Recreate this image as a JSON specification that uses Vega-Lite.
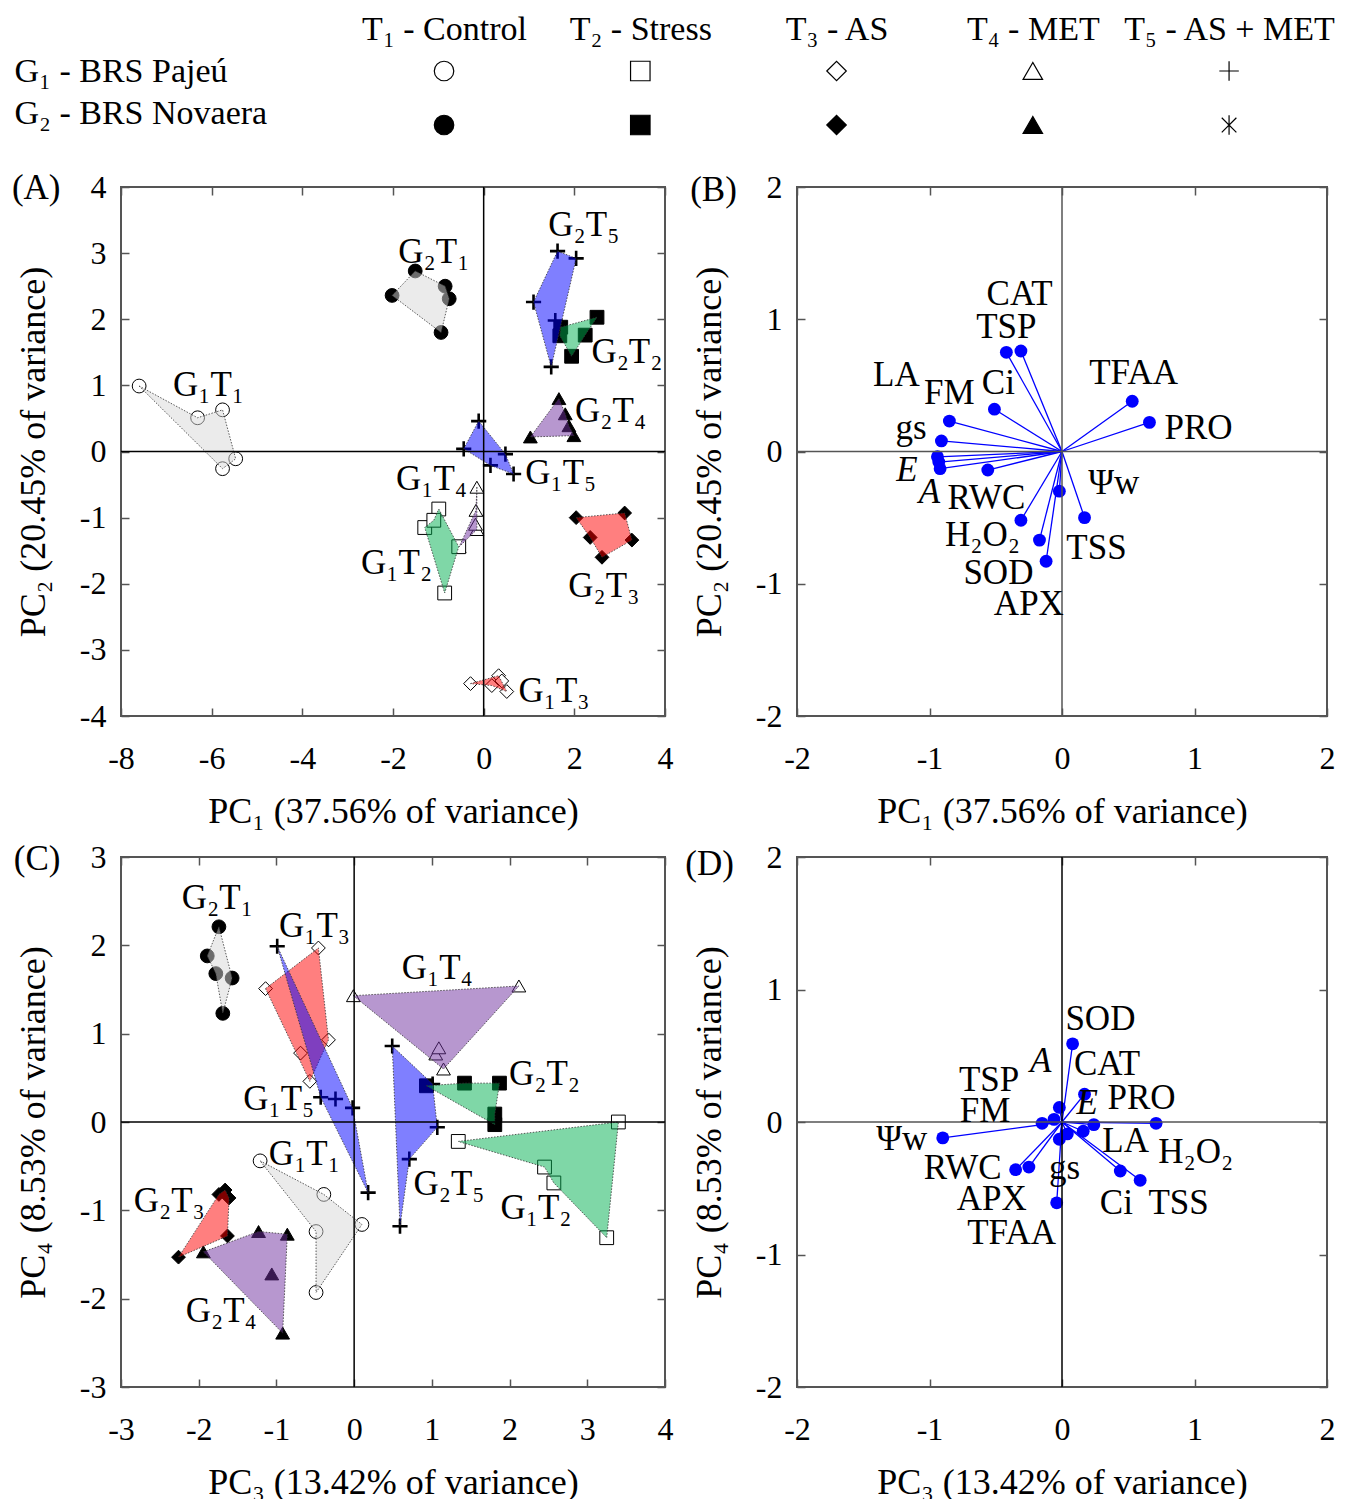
{
"$schema":"https://vega.github.io/schema/vega-lite/v6.json",
"padding":{"left":10,"top":12,"right":5,"bottom":5},
"config":{
 "font":"Liberation Serif",
 "view":{"stroke":"#555","strokeWidth":2},
 "axis":{"labelFont":"Liberation Serif","titleFont":"Liberation Serif","labelFontSize":32,"titleFontSize":36,"titleFontWeight":"normal","labelColor":"#000","titleColor":"#000","domain":false,"grid":false,"tickColor":"#555","tickWidth":1.5,"tickSize":-8,"labelFlush":false,"labelOverlap":false,"labelLimit":0},
 "text":{"font":"Liberation Serif","fontSize":35,"color":"#000"}
},
"datasets":{
 "hdr":[
  {"g":1,"k":"1T1","c":1,"r":1},{"g":1,"k":"1T2","c":2,"r":1},{"g":1,"k":"1T3","c":3,"r":1},{"g":1,"k":"1T4","c":4,"r":1},{"g":1,"k":"1T5","c":5,"r":1},
  {"g":2,"k":"2T1","c":1,"r":2},{"g":2,"k":"2T2","c":2,"r":2},{"g":2,"k":"2T3","c":3,"r":2},{"g":2,"k":"2T4","c":4,"r":2},{"g":2,"k":"2T5","c":5,"r":2}
 ],
 "ptsA":[
  {"id":"G1T1","g":1,"t":"T1","x":-7.60,"y":0.99,"o":1},{"id":"G1T1","g":1,"t":"T1","x":-6.31,"y":0.51,"o":2},{"id":"G1T1","g":1,"t":"T1","x":-5.76,"y":0.63,"o":3},{"id":"G1T1","g":1,"t":"T1","x":-5.47,"y":-0.11,"o":4},{"id":"G1T1","g":1,"t":"T1","x":-5.76,"y":-0.26,"o":5},
  {"id":"G2T1","g":2,"t":"T1","x":-2.02,"y":2.36,"o":1},{"id":"G2T1","g":2,"t":"T1","x":-1.51,"y":2.73,"o":2},{"id":"G2T1","g":2,"t":"T1","x":-0.85,"y":2.50,"o":3},{"id":"G2T1","g":2,"t":"T1","x":-0.76,"y":2.31,"o":4},{"id":"G2T1","g":2,"t":"T1","x":-0.94,"y":1.80,"o":5},
  {"id":"G2T5","g":2,"t":"T5","x":1.63,"y":3.03,"o":1},{"id":"G2T5","g":2,"t":"T5","x":2.04,"y":2.92,"o":2},{"id":"G2T5","g":2,"t":"T5","x":1.49,"y":1.28,"o":3},{"id":"G2T5","g":2,"t":"T5","x":1.10,"y":2.26,"o":4},{"id":"G2T5","g":2,"t":"T5","x":1.58,"y":1.98,"o":null},
  {"id":"G2T2","g":2,"t":"T2","x":1.70,"y":1.88,"o":1},{"id":"G2T2","g":2,"t":"T2","x":2.50,"y":2.03,"o":2},{"id":"G2T2","g":2,"t":"T2","x":2.24,"y":1.76,"o":3},{"id":"G2T2","g":2,"t":"T2","x":1.94,"y":1.44,"o":4},{"id":"G2T2","g":2,"t":"T2","x":1.68,"y":1.75,"o":5},
  {"id":"G2T4","g":2,"t":"T4","x":1.66,"y":0.80,"o":1},{"id":"G2T4","g":2,"t":"T4","x":1.80,"y":0.57,"o":2},{"id":"G2T4","g":2,"t":"T4","x":1.88,"y":0.39,"o":3},{"id":"G2T4","g":2,"t":"T4","x":1.99,"y":0.24,"o":4},{"id":"G2T4","g":2,"t":"T4","x":1.03,"y":0.22,"o":5},
  {"id":"G1T5","g":1,"t":"T5","x":-0.11,"y":0.46,"o":1},{"id":"G1T5","g":1,"t":"T5","x":0.48,"y":-0.04,"o":2},{"id":"G1T5","g":1,"t":"T5","x":0.66,"y":-0.34,"o":3},{"id":"G1T5","g":1,"t":"T5","x":0.15,"y":-0.21,"o":4},{"id":"G1T5","g":1,"t":"T5","x":-0.44,"y":0.04,"o":5},
  {"id":"G1T4","g":1,"t":"T4","x":-0.15,"y":-0.54,"o":1},{"id":"G1T4","g":1,"t":"T4","x":-0.15,"y":-1.18,"o":2},{"id":"G1T4","g":1,"t":"T4","x":-0.54,"y":-1.44,"o":3},{"id":"G1T4","g":1,"t":"T4","x":-0.17,"y":-0.89,"o":4},{"id":"G1T4","g":1,"t":"T4","x":-0.18,"y":-1.10,"o":null},
  {"id":"G1T2","g":1,"t":"T2","x":-0.99,"y":-0.87,"o":1},{"id":"G1T2","g":1,"t":"T2","x":-0.55,"y":-1.44,"o":2},{"id":"G1T2","g":1,"t":"T2","x":-0.86,"y":-2.14,"o":3},{"id":"G1T2","g":1,"t":"T2","x":-1.30,"y":-1.15,"o":4},{"id":"G1T2","g":1,"t":"T2","x":-1.10,"y":-1.04,"o":5},
  {"id":"G2T3","g":2,"t":"T3","x":2.04,"y":-1.00,"o":1},{"id":"G2T3","g":2,"t":"T3","x":3.11,"y":-0.93,"o":2},{"id":"G2T3","g":2,"t":"T3","x":3.27,"y":-1.34,"o":3},{"id":"G2T3","g":2,"t":"T3","x":2.61,"y":-1.60,"o":4},{"id":"G2T3","g":2,"t":"T3","x":2.35,"y":-1.30,"o":5},
  {"id":"G1T3","g":1,"t":"T3","x":-0.29,"y":-3.51,"o":1},{"id":"G1T3","g":1,"t":"T3","x":0.33,"y":-3.39,"o":2},{"id":"G1T3","g":1,"t":"T3","x":0.51,"y":-3.63,"o":3},{"id":"G1T3","g":1,"t":"T3","x":0.18,"y":-3.54,"o":4},{"id":"G1T3","g":1,"t":"T3","x":0.40,"y":-3.47,"o":null}
 ],
 "labA":[
  {"s":"G₂T₁","x":-1.10,"y":3.01},{"s":"G₁T₁","x":-6.07,"y":1.00},{"s":"G₂T₅","x":2.21,"y":3.43},{"s":"G₂T₂","x":3.16,"y":1.50},{"s":"G₂T₄","x":2.80,"y":0.62},
  {"s":"G₁T₅","x":1.70,"y":-0.32},{"s":"G₁T₄","x":-1.15,"y":-0.41},{"s":"G₁T₂","x":-1.92,"y":-1.68},{"s":"G₂T₃","x":2.65,"y":-2.03},{"s":"G₁T₃","x":1.55,"y":-3.62}
 ],
 "ptsC":[
  {"id":"G2T1","g":2,"t":"T1","x":-1.74,"y":2.21,"o":1},{"id":"G2T1","g":2,"t":"T1","x":-1.57,"y":1.63,"o":2},{"id":"G2T1","g":2,"t":"T1","x":-1.69,"y":1.23,"o":3},{"id":"G2T1","g":2,"t":"T1","x":-1.78,"y":1.68,"o":4},{"id":"G2T1","g":2,"t":"T1","x":-1.89,"y":1.88,"o":5},
  {"id":"G1T3","g":1,"t":"T3","x":-1.14,"y":1.51,"o":1},{"id":"G1T3","g":1,"t":"T3","x":-0.46,"y":1.97,"o":2},{"id":"G1T3","g":1,"t":"T3","x":-0.33,"y":0.93,"o":3},{"id":"G1T3","g":1,"t":"T3","x":-0.57,"y":0.46,"o":4},{"id":"G1T3","g":1,"t":"T3","x":-0.69,"y":0.78,"o":null},
  {"id":"G1T5","g":1,"t":"T5","x":-0.99,"y":1.99,"o":1},{"id":"G1T5","g":1,"t":"T5","x":-0.02,"y":0.16,"o":2},{"id":"G1T5","g":1,"t":"T5","x":0.18,"y":-0.80,"o":3},{"id":"G1T5","g":1,"t":"T5","x":-0.43,"y":0.28,"o":4},{"id":"G1T5","g":1,"t":"T5","x":-0.24,"y":0.26,"o":null},
  {"id":"G1T4","g":1,"t":"T4","x":-0.01,"y":1.43,"o":1},{"id":"G1T4","g":1,"t":"T4","x":2.12,"y":1.54,"o":2},{"id":"G1T4","g":1,"t":"T4","x":1.15,"y":0.60,"o":3},{"id":"G1T4","g":1,"t":"T4","x":1.05,"y":0.77,"o":null},{"id":"G1T4","g":1,"t":"T4","x":1.09,"y":0.84,"o":null},
  {"id":"G2T5","g":2,"t":"T5","x":0.49,"y":0.86,"o":1},{"id":"G2T5","g":2,"t":"T5","x":1.01,"y":0.43,"o":2},{"id":"G2T5","g":2,"t":"T5","x":1.07,"y":-0.06,"o":3},{"id":"G2T5","g":2,"t":"T5","x":0.71,"y":-0.42,"o":4},{"id":"G2T5","g":2,"t":"T5","x":0.59,"y":-1.18,"o":5},
  {"id":"G2T2","g":2,"t":"T2","x":0.93,"y":0.41,"o":1},{"id":"G2T2","g":2,"t":"T2","x":1.42,"y":0.44,"o":2},{"id":"G2T2","g":2,"t":"T2","x":1.87,"y":0.44,"o":3},{"id":"G2T2","g":2,"t":"T2","x":1.81,"y":0.09,"o":4},{"id":"G2T2","g":2,"t":"T2","x":1.81,"y":-0.03,"o":5},
  {"id":"G1T2","g":1,"t":"T2","x":1.34,"y":-0.22,"o":1},{"id":"G1T2","g":1,"t":"T2","x":3.40,"y":0.00,"o":2},{"id":"G1T2","g":1,"t":"T2","x":3.25,"y":-1.31,"o":3},{"id":"G1T2","g":1,"t":"T2","x":2.57,"y":-0.69,"o":4},{"id":"G1T2","g":1,"t":"T2","x":2.45,"y":-0.51,"o":5},
  {"id":"G1T1","g":1,"t":"T1","x":-1.21,"y":-0.44,"o":1},{"id":"G1T1","g":1,"t":"T1","x":-0.39,"y":-0.82,"o":2},{"id":"G1T1","g":1,"t":"T1","x":0.10,"y":-1.16,"o":3},{"id":"G1T1","g":1,"t":"T1","x":-0.49,"y":-1.93,"o":4},{"id":"G1T1","g":1,"t":"T1","x":-0.49,"y":-1.24,"o":5},
  {"id":"G2T3","g":2,"t":"T3","x":-1.74,"y":-0.82,"o":1},{"id":"G2T3","g":2,"t":"T3","x":-1.66,"y":-0.77,"o":2},{"id":"G2T3","g":2,"t":"T3","x":-1.61,"y":-0.86,"o":3},{"id":"G2T3","g":2,"t":"T3","x":-1.63,"y":-1.29,"o":4},{"id":"G2T3","g":2,"t":"T3","x":-2.26,"y":-1.53,"o":5},
  {"id":"G2T4","g":2,"t":"T4","x":-1.94,"y":-1.47,"o":1},{"id":"G2T4","g":2,"t":"T4","x":-1.23,"y":-1.24,"o":2},{"id":"G2T4","g":2,"t":"T4","x":-0.86,"y":-1.27,"o":3},{"id":"G2T4","g":2,"t":"T4","x":-0.92,"y":-2.39,"o":4},{"id":"G2T4","g":2,"t":"T4","x":-1.06,"y":-1.72,"o":null}
 ],
 "labC":[
  {"s":"G₂T₁","x":-1.76,"y":2.54},{"s":"G₁T₃","x":-0.51,"y":2.22},{"s":"G₁T₄","x":1.07,"y":1.74},{"s":"G₂T₂","x":2.45,"y":0.54},{"s":"G₁T₅","x":-0.97,"y":0.26},
  {"s":"G₁T₁","x":-0.64,"y":-0.36},{"s":"G₂T₅","x":1.22,"y":-0.70},{"s":"G₁T₂","x":2.34,"y":-0.97},{"s":"G₂T₃","x":-2.38,"y":-0.89},{"s":"G₂T₄","x":-1.71,"y":-2.14}
 ],
 "bioB":[
  {"s":"CAT","x":-0.31,"y":0.76,"lx":-0.32,"ly":1.19,"it":false},
  {"s":"TSP","x":-0.42,"y":0.75,"lx":-0.42,"ly":0.94,"it":false},
  {"s":"Ci","x":-0.51,"y":0.32,"lx":-0.48,"ly":0.52,"it":false},
  {"s":"FM","x":-0.85,"y":0.23,"lx":-0.85,"ly":0.44,"it":false},
  {"s":"LA","x":-0.93,"y":-0.08,"lx":-1.25,"ly":0.58,"it":false},
  {"s":"gs","x":-0.91,"y":0.08,"lx":-1.14,"ly":0.18,"it":false},
  {"s":"E","x":-0.94,"y":-0.04,"lx":-1.17,"ly":-0.14,"it":true},
  {"s":"A","x":-0.92,"y":-0.13,"lx":-1.00,"ly":-0.31,"it":true},
  {"s":"RWC","x":-0.56,"y":-0.14,"lx":-0.57,"ly":-0.35,"it":false},
  {"s":"Ψw","x":-0.02,"y":-0.30,"lx":0.39,"ly":-0.24,"it":false},
  {"s":"H₂O₂","x":-0.31,"y":-0.52,"lx":-0.60,"ly":-0.63,"it":false},
  {"s":"SOD","x":-0.17,"y":-0.67,"lx":-0.48,"ly":-0.92,"it":false},
  {"s":"APX","x":-0.12,"y":-0.83,"lx":-0.25,"ly":-1.15,"it":false},
  {"s":"TSS","x":0.17,"y":-0.50,"lx":0.26,"ly":-0.73,"it":false},
  {"s":"TFAA","x":0.53,"y":0.38,"lx":0.54,"ly":0.59,"it":false},
  {"s":"PRO","x":0.66,"y":0.22,"lx":1.03,"ly":0.18,"it":false}
 ],
 "bioD":[
  {"s":"SOD","x":0.08,"y":0.59,"lx":0.29,"ly":0.78,"it":false},
  {"s":"CAT","x":0.17,"y":0.21,"lx":0.34,"ly":0.44,"it":false},
  {"s":"H₂O₂","x":0.71,"y":-0.01,"lx":1.01,"ly":-0.23,"it":false},
  {"s":"Ψw","x":-0.90,"y":-0.12,"lx":-1.21,"ly":-0.13,"it":false},
  {"s":"RWC","x":-0.35,"y":-0.36,"lx":-0.75,"ly":-0.35,"it":false},
  {"s":"APX","x":-0.25,"y":-0.34,"lx":-0.53,"ly":-0.58,"it":false},
  {"s":"TFAA","x":-0.04,"y":-0.61,"lx":-0.38,"ly":-0.84,"it":false},
  {"s":"Ci","x":0.44,"y":-0.37,"lx":0.41,"ly":-0.61,"it":false},
  {"s":"TSS","x":0.59,"y":-0.44,"lx":0.88,"ly":-0.61,"it":false},
  {"s":"A","x":-0.02,"y":0.11,"lx":-0.16,"ly":0.46,"it":true},
  {"s":"TSP","x":-0.06,"y":0.02,"lx":-0.55,"ly":0.32,"it":false},
  {"s":"FM","x":-0.15,"y":-0.01,"lx":-0.58,"ly":0.08,"it":false},
  {"s":"LA","x":0.24,"y":-0.02,"lx":0.48,"ly":-0.14,"it":false},
  {"s":"E","x":0.16,"y":-0.07,"lx":0.19,"ly":0.14,"it":true},
  {"s":"PRO","x":0.04,"y":-0.09,"lx":0.60,"ly":0.18,"it":false},
  {"s":"gs","x":-0.02,"y":-0.13,"lx":0.02,"ly":-0.35,"it":false}
 ]
},
"spacing":27,
"vconcat":[
 {
  "width":1206,"height":97,"view":{"stroke":null},
  "data":{"name":"hdr"},
  "mark":{"type":"point","filled":true,"stroke":"black","strokeWidth":1.2,"opacity":1,"size":380},
  "encoding":{
   "x":{"field":"c","type":"quantitative","scale":{"domain":[-0.646,5.499],"nice":false,"zero":false},
        "axis":{"orient":"top","values":[1,2,3,4,5],"labelExpr":"['','T₁ - Control','T₂ - Stress','T₃ - AS','T₄ - MET','T₅ - AS + MET'][datum.value]","ticks":false,"tickSize":0,"labelPadding":0,"labelFontSize":34,"labelLimit":0,"title":null}},
   "y":{"field":"r","type":"quantitative","scale":{"domain":[0.537,2.333],"reverse":true,"nice":false,"zero":false},
        "axis":{"values":[1,1.78],"labelExpr":"datum.value < 1.5 ? 'G₁ - BRS Pajeú' : 'G₂ - BRS Novaera'","labelAlign":"left","labelBaseline":"middle","labelPadding":107,"labelFontSize":34,"labelLimit":0,"ticks":false,"tickSize":0,"title":null}},
   "shape":{"field":"k","type":"nominal","scale":{"domain":["1T1","1T2","1T3","1T4","1T5","2T1","2T2","2T3","2T4","2T5"],"range":["circle","square","diamond","triangle-up","M-1,0H1M0,-1V1","circle","square","diamond","triangle-up","M0,-1V1M-0.75,-0.75L0.75,0.75M-0.75,0.75L0.75,-0.75"]},"legend":null},
   "fill":{"field":"g","type":"nominal","scale":{"domain":[1,2],"range":["white","black"]},"legend":null}
  }
 },
 {
  "columns":2,
  "spacing":{"row":141,"column":132},
  "bounds":"flush",
  "concat":[
   {
    "width":544,"height":529,
    "layer":[
     {"data":{"name":"ptsA"},"transform":[{"filter":"datum.t != 'T5'"}],"mark":{"type":"point","filled":true,"stroke":"black","strokeWidth":1,"opacity":1,"size":190},
      "encoding":{
       "x":{"field":"x","type":"quantitative","scale":{"domain":[-8,4],"nice":false,"zero":false},"axis":{"values":[-8,-6,-4,-2,0,2,4],"labelExpr":"''+datum.value","title":"PC₁ (37.56% of variance)","labelPadding":35,"titlePadding":20}},
       "y":{"field":"y","type":"quantitative","scale":{"domain":[-4,4],"nice":false,"zero":false},"axis":{"values":[-4,-3,-2,-1,0,1,2,3,4],"labelExpr":"''+datum.value","title":"PC₂ (20.45% of variance)","labelPadding":23,"titlePadding":27}},
       "shape":{"field":"t","type":"nominal","scale":{"domain":["T1","T2","T3","T4"],"range":["circle","square","diamond","triangle-up"]},"legend":null},
       "fill":{"field":"g","type":"nominal","scale":{"domain":[1,2],"range":["white","black"]},"legend":null}
      }},
     {"data":{"name":"ptsA"},"transform":[{"filter":"datum.t == 'T5'"}],"mark":{"type":"point","filled":false,"stroke":"black","strokeWidth":2.6,"opacity":1,"size":230,"shape":"M-1,0H1M0,-1V1"},
      "encoding":{"x":{"field":"x","type":"quantitative","axis":null},"y":{"field":"y","type":"quantitative","axis":null}}},
     {"data":{"name":"ptsA"},"transform":[{"filter":"datum.o != null"}],
      "mark":{"type":"line","interpolate":"linear-closed","fillOpacity":0.5,"stroke":"#333","strokeWidth":1,"strokeDash":[1.5,1.5],"strokeOpacity":0.8},
      "encoding":{
       "x":{"field":"x","type":"quantitative","axis":null},
       "y":{"field":"y","type":"quantitative","axis":null},
       "fill":{"field":"t","type":"nominal","scale":{"domain":["T1","T2","T3","T4","T5"],"range":["#d8d8d8","#00b050","#ff0000","#7030a0","#0000ff"]},"legend":null},
       "detail":{"field":"id"},
       "order":{"field":"o","type":"quantitative"}
      }},
     {"data":{"values":[{}]},"mark":{"type":"rule","color":"black","strokeWidth":1.5},
      "encoding":{"x":{"datum":0,"type":"quantitative","axis":{"orient":"top","values":[-8,-6,-4,-2,0,2,4],"labels":false,"title":null}}}},
     {"data":{"values":[{}]},"mark":{"type":"rule","color":"black","strokeWidth":1.5},
      "encoding":{"y":{"datum":0,"type":"quantitative","axis":{"orient":"right","values":[-4,-3,-2,-1,0,1,2,3,4],"labels":false,"title":null}}}},
     {"data":{"name":"labA"},"mark":{"type":"text","fontSize":35},
      "encoding":{"x":{"field":"x","type":"quantitative","axis":null},"y":{"field":"y","type":"quantitative","axis":null},"text":{"field":"s"}}},
     {"data":{"values":[{}]},"mark":{"type":"text","text":"(A)","fontSize":35},
      "encoding":{"x":{"datum":-9.87,"type":"quantitative","axis":null},"y":{"datum":3.98,"type":"quantitative","axis":null}}}
    ],
    "resolve":{"scale":{"fill":"independent"},"axis":{"x":"independent","y":"independent"}}
   },
   {
    "width":530,"height":529,
    "layer":[
     {"data":{"name":"bioB"},"mark":{"type":"rule","color":"#0000ff","strokeWidth":1.3},
      "encoding":{
       "x":{"field":"x","type":"quantitative","scale":{"domain":[-2,2],"nice":false,"zero":false},"axis":{"values":[-2,-1,0,1,2],"labelExpr":"''+datum.value","title":"PC₁ (37.56% of variance)","labelPadding":35,"titlePadding":20}},
       "y":{"field":"y","type":"quantitative","scale":{"domain":[-2,2],"nice":false,"zero":false},"axis":{"values":[-2,-1,0,1,2],"labelExpr":"''+datum.value","title":"PC₂ (20.45% of variance)","labelPadding":23,"titlePadding":27}},
       "x2":{"datum":0},"y2":{"datum":0}
      }},
     {"data":{"name":"bioB"},"mark":{"type":"circle","color":"#0000ff","opacity":1,"size":165},
      "encoding":{"x":{"field":"x","type":"quantitative","axis":null},"y":{"field":"y","type":"quantitative","axis":null}}},
     {"data":{"values":[{}]},"mark":{"type":"rule","color":"#555","strokeWidth":1.5},
      "encoding":{"x":{"datum":0,"type":"quantitative","axis":{"orient":"top","values":[-2,-1,0,1,2],"labels":false,"title":null}}}},
     {"data":{"values":[{}]},"mark":{"type":"rule","color":"#555","strokeWidth":1.5},
      "encoding":{"y":{"datum":0,"type":"quantitative","axis":{"orient":"right","values":[-2,-1,0,1,2],"labels":false,"title":null}}}},
     {"data":{"name":"bioB"},"transform":[{"filter":"!datum.it"}],"mark":{"type":"text","fontSize":35},
      "encoding":{"x":{"field":"lx","type":"quantitative","axis":null},"y":{"field":"ly","type":"quantitative","axis":null},"text":{"field":"s"}}},
     {"data":{"name":"bioB"},"transform":[{"filter":"datum.it"}],"mark":{"type":"text","fontSize":35,"fontStyle":"italic"},
      "encoding":{"x":{"field":"lx","type":"quantitative","axis":null},"y":{"field":"ly","type":"quantitative","axis":null},"text":{"field":"s"}}},
     {"data":{"values":[{}]},"mark":{"type":"text","text":"(B)","fontSize":35},
      "encoding":{"x":{"datum":-2.63,"type":"quantitative","axis":null},"y":{"datum":1.98,"type":"quantitative","axis":null}}}
    ],
    "resolve":{"axis":{"x":"independent","y":"independent"}}
   },
   {
    "width":544,"height":530,
    "layer":[
     {"data":{"name":"ptsC"},"transform":[{"filter":"datum.t != 'T5'"}],"mark":{"type":"point","filled":true,"stroke":"black","strokeWidth":1,"opacity":1,"size":190},
      "encoding":{
       "x":{"field":"x","type":"quantitative","scale":{"domain":[-3,4],"nice":false,"zero":false},"axis":{"values":[-3,-2,-1,0,1,2,3,4],"labelExpr":"''+datum.value","title":"PC₃ (13.42% of variance)","labelPadding":35,"titlePadding":20}},
       "y":{"field":"y","type":"quantitative","scale":{"domain":[-3,3],"nice":false,"zero":false},"axis":{"values":[-3,-2,-1,0,1,2,3],"labelExpr":"''+datum.value","title":"PC₄ (8.53% of variance)","labelPadding":23,"titlePadding":27}},
       "shape":{"field":"t","type":"nominal","scale":{"domain":["T1","T2","T3","T4"],"range":["circle","square","diamond","triangle-up"]},"legend":null},
       "fill":{"field":"g","type":"nominal","scale":{"domain":[1,2],"range":["white","black"]},"legend":null}
      }},
     {"data":{"name":"ptsC"},"transform":[{"filter":"datum.t == 'T5'"}],"mark":{"type":"point","filled":false,"stroke":"black","strokeWidth":2.6,"opacity":1,"size":230,"shape":"M-1,0H1M0,-1V1"},
      "encoding":{"x":{"field":"x","type":"quantitative","axis":null},"y":{"field":"y","type":"quantitative","axis":null}}},
     {"data":{"name":"ptsC"},"transform":[{"filter":"datum.o != null"}],
      "mark":{"type":"line","interpolate":"linear-closed","fillOpacity":0.5,"stroke":"#333","strokeWidth":1,"strokeDash":[1.5,1.5],"strokeOpacity":0.8},
      "encoding":{
       "x":{"field":"x","type":"quantitative","axis":null},
       "y":{"field":"y","type":"quantitative","axis":null},
       "fill":{"field":"t","type":"nominal","scale":{"domain":["T1","T2","T3","T4","T5"],"range":["#d8d8d8","#00b050","#ff0000","#7030a0","#0000ff"]},"legend":null},
       "detail":{"field":"id"},
       "order":{"field":"o","type":"quantitative"}
      }},
     {"data":{"values":[{}]},"mark":{"type":"rule","color":"black","strokeWidth":1.5},
      "encoding":{"x":{"datum":0,"type":"quantitative","axis":{"orient":"top","values":[-3,-2,-1,0,1,2,3,4],"labels":false,"title":null}}}},
     {"data":{"values":[{}]},"mark":{"type":"rule","color":"black","strokeWidth":1.5},
      "encoding":{"y":{"datum":0,"type":"quantitative","axis":{"orient":"right","values":[-3,-2,-1,0,1,2,3],"labels":false,"title":null}}}},
     {"data":{"name":"labC"},"mark":{"type":"text","fontSize":35},
      "encoding":{"x":{"field":"x","type":"quantitative","axis":null},"y":{"field":"y","type":"quantitative","axis":null},"text":{"field":"s"}}},
     {"data":{"values":[{}]},"mark":{"type":"text","text":"(C)","fontSize":35},
      "encoding":{"x":{"datum":-4.08,"type":"quantitative","axis":null},"y":{"datum":2.98,"type":"quantitative","axis":null}}}
    ],
    "resolve":{"scale":{"fill":"independent"},"axis":{"x":"independent","y":"independent"}}
   },
   {
    "width":530,"height":530,
    "layer":[
     {"data":{"name":"bioD"},"mark":{"type":"rule","color":"#0000ff","strokeWidth":1.3},
      "encoding":{
       "x":{"field":"x","type":"quantitative","scale":{"domain":[-2,2],"nice":false,"zero":false},"axis":{"values":[-2,-1,0,1,2],"labelExpr":"''+datum.value","title":"PC₃ (13.42% of variance)","labelPadding":35,"titlePadding":20}},
       "y":{"field":"y","type":"quantitative","scale":{"domain":[-2,2],"nice":false,"zero":false},"axis":{"values":[-2,-1,0,1,2],"labelExpr":"''+datum.value","title":"PC₄ (8.53% of variance)","labelPadding":23,"titlePadding":27}},
       "x2":{"datum":0},"y2":{"datum":0}
      }},
     {"data":{"name":"bioD"},"mark":{"type":"circle","color":"#0000ff","opacity":1,"size":165},
      "encoding":{"x":{"field":"x","type":"quantitative","axis":null},"y":{"field":"y","type":"quantitative","axis":null}}},
     {"data":{"values":[{}]},"mark":{"type":"rule","color":"black","strokeWidth":1.5},
      "encoding":{"x":{"datum":0,"type":"quantitative","axis":{"orient":"top","values":[-2,-1,0,1,2],"labels":false,"title":null}}}},
     {"data":{"values":[{}]},"mark":{"type":"rule","color":"#555","strokeWidth":1.5},
      "encoding":{"y":{"datum":0,"type":"quantitative","axis":{"orient":"right","values":[-2,-1,0,1,2],"labels":false,"title":null}}}},
     {"data":{"name":"bioD"},"transform":[{"filter":"!datum.it"}],"mark":{"type":"text","fontSize":35},
      "encoding":{"x":{"field":"lx","type":"quantitative","axis":null},"y":{"field":"ly","type":"quantitative","axis":null},"text":{"field":"s"}}},
     {"data":{"name":"bioD"},"transform":[{"filter":"datum.it"}],"mark":{"type":"text","fontSize":35,"fontStyle":"italic"},
      "encoding":{"x":{"field":"lx","type":"quantitative","axis":null},"y":{"field":"ly","type":"quantitative","axis":null},"text":{"field":"s"}}},
     {"data":{"values":[{}]},"mark":{"type":"text","text":"(D)","fontSize":35},
      "encoding":{"x":{"datum":-2.66,"type":"quantitative","axis":null},"y":{"datum":1.95,"type":"quantitative","axis":null}}}
    ],
    "resolve":{"axis":{"x":"independent","y":"independent"}}
   }
  ]
 }
]
}
